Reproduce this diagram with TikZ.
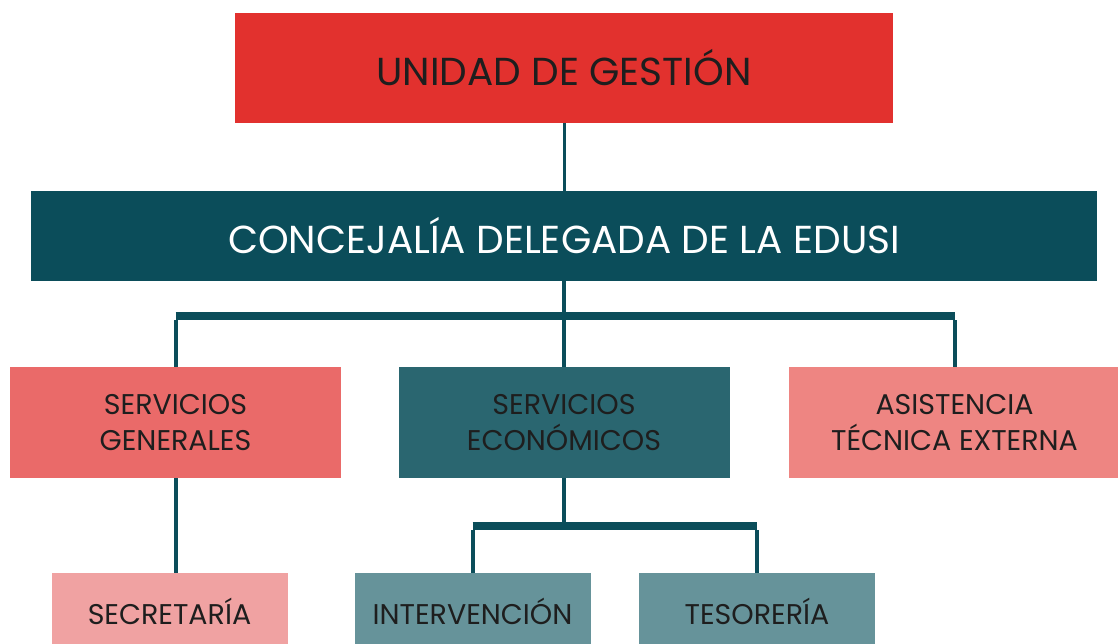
\documentclass[tikz,border=0pt]{standalone}
\usepackage{fontspec}
\setmainfont{Poppins}
\definecolor{rojo}{HTML}{E2312E}
\definecolor{petroleo}{HTML}{0B4D5A}
\definecolor{salmon}{HTML}{EA6A69}
\definecolor{verdeazul}{HTML}{2A6670}
\definecolor{salmonclaro}{HTML}{EE8582}
\definecolor{rosa}{HTML}{F0A2A2}
\definecolor{grisazul}{HTML}{66939A}
\definecolor{texto}{HTML}{1E1E1E}
\begin{document}
\begin{tikzpicture}[x=1pt, y=-1pt,
	caja/.style={inner sep=0pt, align=center, text=texto},
	grande/.style={caja, font=\fontsize{39}{44}\selectfont},
	media/.style={caja, minimum width=331, minimum height=111, font=\fontsize{28.5}{36}\selectfont},
	baja/.style={caja, minimum width=236, minimum height=76, font=\fontsize{28.5}{36}\selectfont},
	linea/.style={petroleo, line width=4pt},
	barra/.style={petroleo, line width=8pt}]
	\useasboundingbox (0,0) rectangle (1118,644);
	
	%niveles superiores
	\node[grande, fill=rojo, minimum width=658, minimum height=110] (ug) at (564,68) {UNIDAD DE GESTIÓN};
	\node[grande, fill=petroleo, text=white, minimum width=1066, minimum height=90] (cde) at (564,236) {CONCEJALÍA DELEGADA DE LA EDUSI};
	
	%servicios
	\node[media, fill=salmon] (sg) at (175.5,422.5) {SERVICIOS\\GENERALES};
	\node[media, fill=verdeazul] (se) at (564,422.5) {SERVICIOS\\ECONÓMICOS};
	\node[media, fill=salmonclaro] (ate) at (954.5,422.5) {ASISTENCIA\\TÉCNICA EXTERNA};
	
	%abajo
	\node[baja, fill=rosa] (sec) at (169.5,611) {SECRETARÍA};
	\node[baja, fill=grisazul] (int) at (472.5,611) {INTERVENCIÓN};
	\node[baja, fill=grisazul] (tes) at (757,611) {TESORERÍA};
	
	\coordinate (b1) at (564,316);
	\coordinate (b2) at (564,526);
	
	\draw[petroleo, line width=3pt] (ug) -- (cde);
	\draw[linea] (cde.south) -- (b1);
	\draw[barra] (sg.north |- b1) -- (ate.north |- b1);
	\foreach \n in {sg, se, ate}{
		\draw[linea] ([yshift=-4pt]\n.north |- b1) -- (\n.north);
	}
	
	\draw[linea] (se.south) -- (b2);
	\draw[barra] (int.north |- b2) -- (tes.north |- b2);
	\foreach \n in {int, tes}{
		\draw[linea] ([yshift=-4pt]\n.north |- b2) -- (\n.north);
	}
	\draw[linea] (sg.south) -- (sg.south |- sec.north);
\end{tikzpicture}
\end{document}
